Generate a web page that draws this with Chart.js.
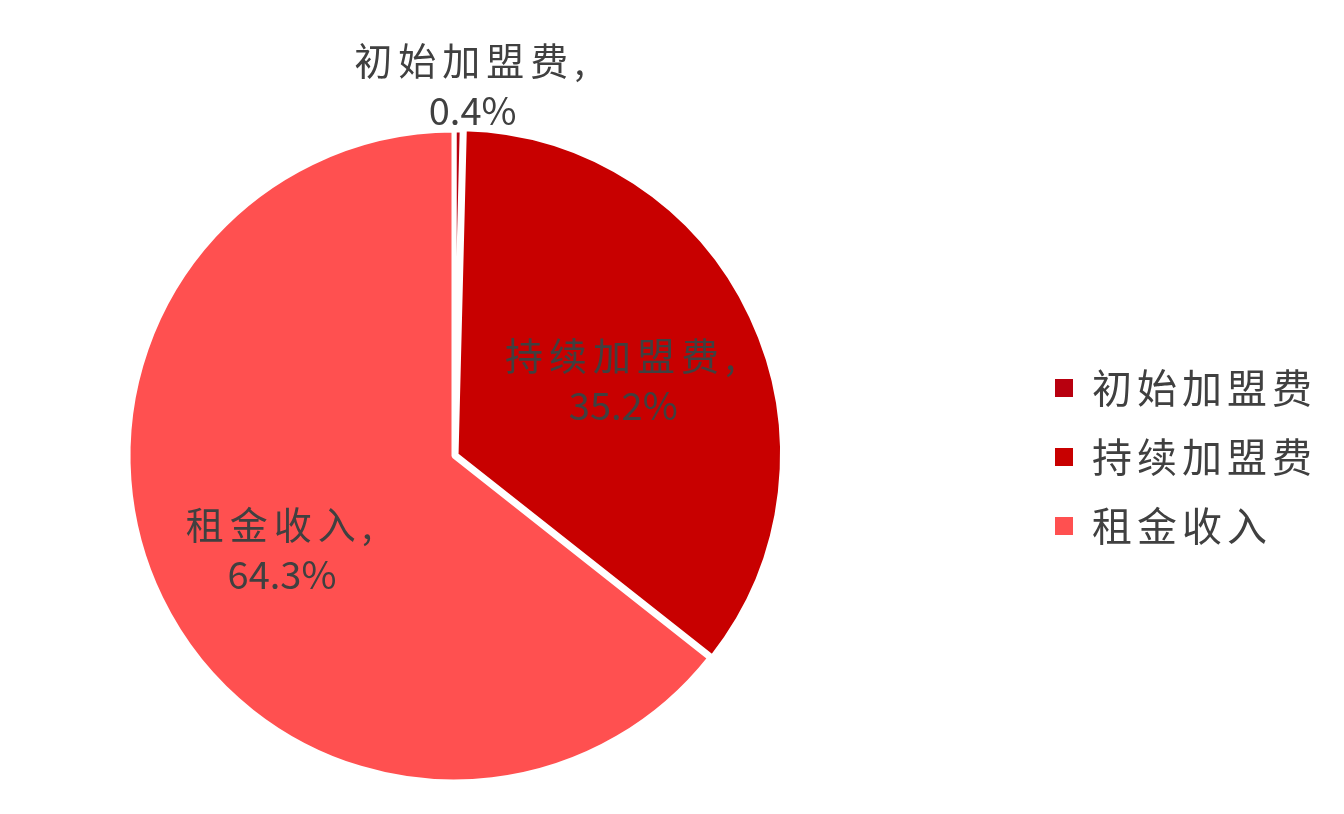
<!DOCTYPE html>
<html>
<head>
<meta charset="utf-8">
<script src="https://cdn.jsdelivr.net/npm/chart.js@4/dist/chart.umd.min.js"></script>
<style>
  html, body { margin: 0; padding: 0; background: #fff; }
  #wrap { width: 1344px; height: 814px; position: relative; }
</style>
</head>
<body>
<div id="wrap"><canvas id="pieChart"></canvas></div>
<script>
// data
const categories = ['初始加盟费', '持续加盟费', '租金收入'];
const shares = [0.4, 35.2, 64.3];
const sliceColors = ['#B8000F', '#C80000', '#FF5050'];

const CJK = '"Noto Sans CJK SC", "Noto Sans", sans-serif';

// label text placed around each slice, radial factor of outer radius
const sliceLabels = {
    id: 'sliceLabels',
    afterDatasetsDraw(chart, args, opts) {
        const ctx = chart.ctx;
        const meta = chart.getDatasetMeta(0);
        ctx.save();
        ctx.font = opts.font;
        ctx.fillStyle = opts.color;
        ctx.textAlign = 'center';
        ctx.textBaseline = 'middle';
        meta.data.forEach(function(arc, i) {
            const p = arc.getProps(['x', 'y', 'startAngle', 'endAngle', 'outerRadius'], true);
            const mid = (p.startAngle + p.endAngle) / 2;
            const r = p.outerRadius * opts.factor[i];
            const cx = p.x + Math.cos(mid) * r + opts.nudge[i][0];
            const cy = p.y + Math.sin(mid) * r + opts.nudge[i][1];
            ctx.letterSpacing = opts.spacing;
            ctx.fillText(chart.data.labels[i] + ',', cx, cy - opts.lineHeight / 2);
            ctx.letterSpacing = '0px';
            ctx.fillText(chart.data.datasets[0].data[i] + '%', cx, cy + opts.lineHeight / 2);
        });
        ctx.restore();
    }
};

// legend on the right side
const sideLegend = {
    id: 'sideLegend',
    afterDraw(chart, args, opts) {
        const ctx = chart.ctx;
        const colors = chart.data.datasets[0].backgroundColor;
        ctx.save();
        ctx.font = opts.font;
        ctx.textBaseline = 'middle';
        ctx.textAlign = 'left';
        ctx.letterSpacing = opts.spacing;
        chart.data.labels.forEach(function(label, i) {
            const y = opts.top + i * opts.rowGap;
            ctx.fillStyle = colors[i];
            ctx.fillRect(opts.x, y - opts.box / 2, opts.box, opts.box);
            ctx.fillStyle = opts.color;
            ctx.fillText(label, opts.x + opts.textGap, y);
        });
        ctx.restore();
    }
};

const pieCtx = document.getElementById('pieChart').getContext('2d');
const pieChart = new Chart(pieCtx, {
    type: 'pie',
    data: {
        labels: categories,
        datasets: [{
            data: shares,
            backgroundColor: sliceColors,
            borderColor: '#ffffff',
            borderWidth: 5,
            offset: [0, 9, 0],
            radius: 326
        }]
    },
    options: {
        responsive: true,
        maintainAspectRatio: false,
        animation: false,
        layout: {
            padding: { left: 0, right: 436, top: 98, bottom: 0 }
        },
        plugins: {
            legend: { display: false },
            tooltip: { enabled: false },
            sliceLabels: {
                font: '38px ' + CJK,
                color: '#404040',
                spacing: '6px',
                lineHeight: 50,
                factor: [1.13, 0.56, 0.6],
                nudge: [[14, -2], [4, 2], [4, 8]]
            },
            sideLegend: {
                font: '40px ' + CJK,
                color: '#404040',
                spacing: '5px',
                x: 1055,
                top: 388,
                rowGap: 69,
                box: 18,
                textGap: 37
            }
        }
    },
    plugins: [sliceLabels, sideLegend]
});
</script>
</body>
</html>
